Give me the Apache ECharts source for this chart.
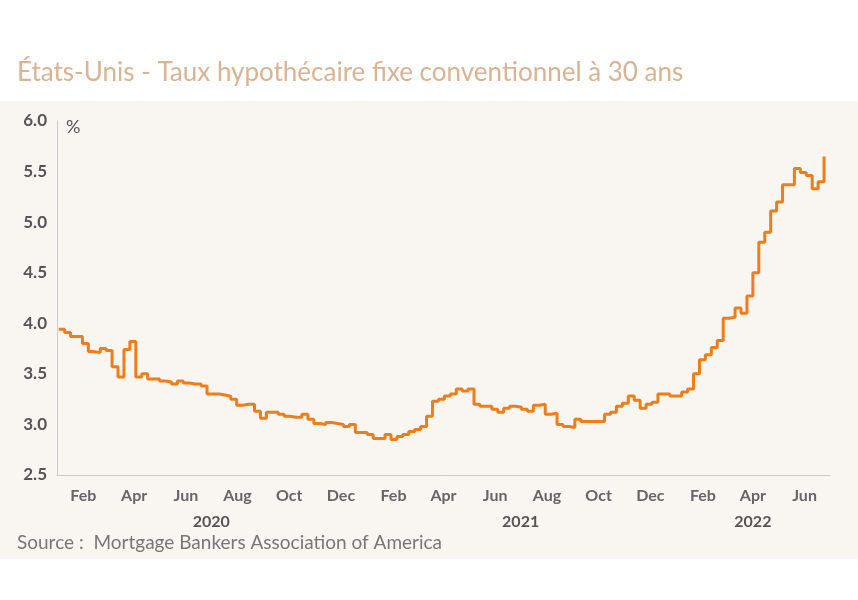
<!DOCTYPE html>
<html><head><meta charset="utf-8">
<script src="https://cdn.jsdelivr.net/npm/echarts@6/dist/echarts.min.js"></script>
<style>html,body{margin:0;padding:0;background:#fff}#c{width:858px;height:600px}</style>
</head><body><div id="c"></div>
<script>
const startDate = '2020-01-03';
const values2020 = [3.94,3.91,3.87,3.87,3.80, 3.72,3.71,3.75,3.73, 3.57,3.47,3.74,3.82,
  3.47,3.50,3.45,3.45, 3.43,3.42,3.40,3.43,3.41, 3.40,3.40,3.38,3.30,
  3.30,3.29,3.28,3.25,3.19, 3.20,3.20,3.13,3.06, 3.12,3.12,3.10,3.08,
  3.07,3.07,3.10,3.05,3.01, 3.00,3.02,3.01,3.00, 2.98,3.00,2.92,2.92];
const values2021 = [2.90,2.86,2.86,2.90,2.85, 2.88,2.90,2.93,2.95, 2.98,3.08,3.23,3.25,
  3.28,3.30,3.35,3.33,3.35, 3.20,3.18,3.18,3.15, 3.12,3.16,3.18,3.17,
  3.15,3.13,3.19,3.20,3.10, 3.11,3.00,2.98,2.97, 3.05,3.03,3.03,3.03,
  3.03,3.10,3.12,3.18,3.21, 3.28,3.24,3.16,3.20, 3.22,3.30,3.30,3.28,3.28];
const values2022 = [3.32,3.35,3.50,3.64, 3.69,3.76,3.83,4.05, 4.06,4.15,4.10,4.27,
  4.50,4.80,4.90,5.11,5.20, 5.37,5.37,5.53,5.49, 5.46,5.33,5.40,5.65];
const monthLabels = {'2020-02':'Feb','2020-04':'Apr','2020-06':'Jun','2020-07':'\n{y|2020}','2020-08':'Aug','2020-10':'Oct','2020-12':'Dec',
  '2021-02':'Feb','2021-04':'Apr','2021-06':'Jun','2021-07':'\n{y|2021}','2021-08':'Aug','2021-10':'Oct','2021-12':'Dec',
  '2022-02':'Feb','2022-04':'Apr\n{y|2022}','2022-06':'Jun'};
const allValues = values2020.concat(values2021, values2022);
const t0 = Date.parse(startDate + 'T00:00:00Z');
const data = allValues.map((v,i)=>[t0 + i*7*86400000, v]);
const tickKeys = Object.keys(monthLabels);
const tickVals = tickKeys.map(k=>Date.parse(k+'-01T00:00:00Z'));
const chart = echarts.init(document.getElementById('c'));
const FONT = 'Lato';
chart.setOption({
  backgroundColor:'#fff',
  animation:false,
  graphic:[
    {type:'rect',z:-10,shape:{x:0,y:101,width:858,height:458},style:{fill:'#f9f5f1'}},
    {type:'text',left:17,top:60,style:{text:'États-Unis - Taux hypothécaire fixe conventionnel à 30 ans',fill:'#d8b394',font:'26px '+FONT}},
    {type:'text',left:66,top:118,style:{text:'%',fill:'#555',font:'18px '+FONT}},
    {type:'text',left:17,top:533,style:{text:'Source :  Mortgage Bankers Association of America',fill:'#777',font:'19px '+FONT}}
  ],
  grid:{left:57,right:28,top:121,bottom:125},
  xAxis:{type:'value',min:Date.parse('2020-01-01T00:00:00Z'),max:Date.parse('2022-07-01T00:00:00Z'),
    axisLine:{lineStyle:{color:'#ccc'}},axisTick:{show:false},splitLine:{show:false},
    axisLabel:{customValues:tickVals,hideOverlap:false,
      color:'#666',fontWeight:'bold',fontSize:16,fontFamily:FONT,lineHeight:26,
      formatter:v=>{const d=new Date(v);const k=d.getUTCFullYear()+'-'+String(d.getUTCMonth()+1).padStart(2,'0');return monthLabels[k]||'';},
      rich:{y:{color:'#555',fontWeight:'bold',fontSize:16,fontFamily:FONT,lineHeight:26}}}},
  yAxis:{type:'value',min:2.5,max:6,interval:0.5,
    axisLine:{show:true,lineStyle:{color:'#ccc'}},axisTick:{show:false},splitLine:{show:false},
    axisLabel:{formatter:v=>v.toFixed(1),color:'#555',fontWeight:'bold',fontSize:17,fontFamily:FONT,margin:10}},
  series:[{type:'line',step:'end',data:data,symbol:'none',lineStyle:{color:'#ee7d1a',width:3}}]
});
</script></body></html>
